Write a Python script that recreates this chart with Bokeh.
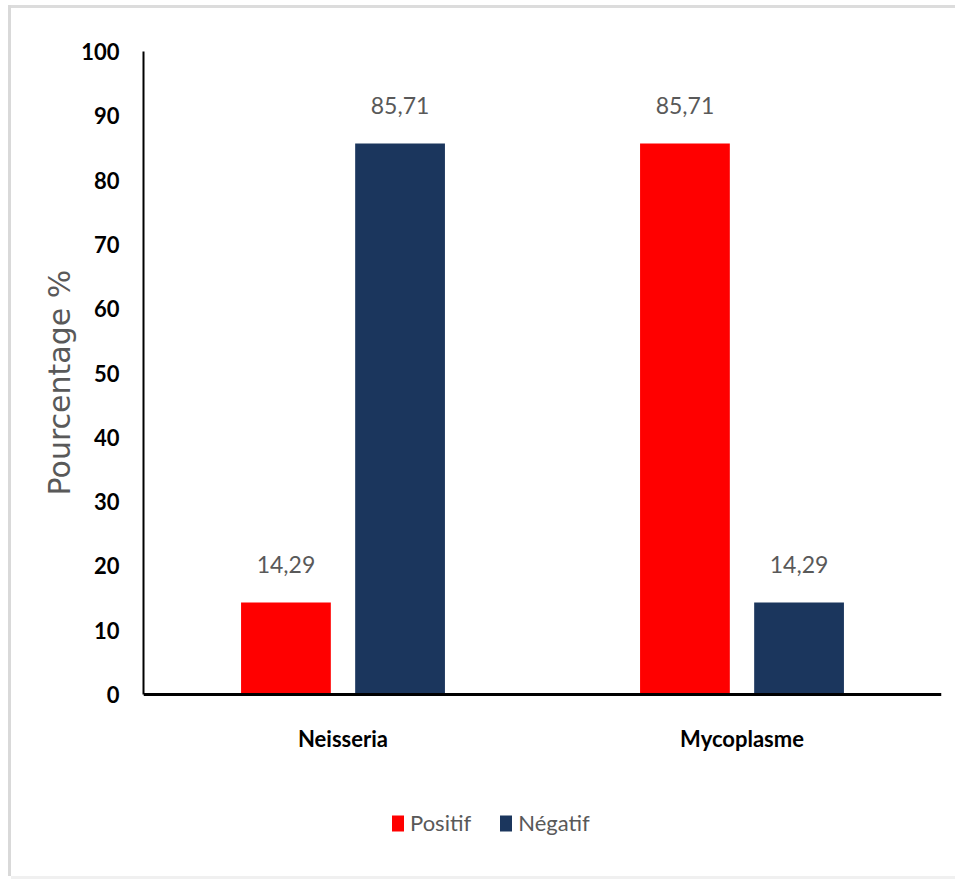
from bokeh.plotting import figure
from bokeh.models import (FactorRange, Range1d, FixedTicker, ColumnDataSource,
                          LabelSet, Legend, LegendItem, Span, Title)
from bokeh.core.properties import value
from bokeh.transform import dodge
from bokeh.embed import file_html
from bokeh.resources import INLINE

categories = ["Neisseria", "Mycoplasme"]
positif = [14.29, 85.71]
negatif = [85.71, 14.29]
series_names = ["Positif", "Négatif"]
y_ticks = [0, 10, 20, 30, 40, 50, 60, 70, 80, 90, 100]
y_title = "Pourcentage %"

RED = "#FF0000"
NAVY = "#1B365D"
GRAY = "#595959"
FONT = "Lato"

src = ColumnDataSource(dict(
    cat=categories,
    pos=positif,
    neg=negatif,
    pos_lbl=[f"{v:.2f}".replace(".", ",") for v in positif],
    neg_lbl=[f"{v:.2f}".replace(".", ",") for v in negatif],
))

# page geometry (pixels): canvas from x=11 / y=8, frame 143..941 x 51..876,
# value 0 at y=694 and 100 at y=51; the legend lives in the frame below 0.
CANVAS_X, CANVAS_Y = 11, 8
W, H = 944, 868
F_TOP, F_BOTTOM, ZERO_Y = 51, CANVAS_Y + H, 694
y_start = -100.0 * (F_BOTTOM - ZERO_Y) / (ZERO_Y - F_TOP)

p = figure(width=W, height=H, output_backend="svg", toolbar_location=None,
           x_range=FactorRange(factors=categories, range_padding=0),
           y_range=Range1d(y_start, 100),
           min_border_left=143 - CANVAS_X, min_border_right=CANVAS_X + W - 941,
           min_border_top=F_TOP - CANVAS_Y, min_border_bottom=0)
# light frame on the left, top and bottom (as in the reference screenshot)
p.styles = {"margin-left": f"{CANVAS_X}px", "margin-top": f"{CANVAS_Y}px",
            "box-shadow": ("-3px 0 0 0 #D9D9D9, 0 -3px 0 0 #DCDCDC, "
                           "-3px -3px 0 0 #D9D9D9, 0 3px 0 0 #F0F0F0")}

p.outline_line_color = None
p.grid.visible = False
p.background_fill_color = "white"
p.border_fill_color = "white"
p.xaxis.visible = False

off = 0.143
w = 0.225
r1 = p.vbar(x=dodge("cat", -off, range=p.x_range), top="pos", width=w, bottom=0,
            source=src, fill_color=RED, line_color=None)
r2 = p.vbar(x=dodge("cat", off, range=p.x_range), top="neg", width=w, bottom=0,
            source=src, fill_color=NAVY, line_color=None)

# x axis line at 0
p.add_layout(Span(location=0, dimension="width", line_color="black", line_width=3))

# category labels
p.add_layout(LabelSet(x="cat", y=0, text="cat", source=src, y_offset=-44,
                      text_align="center", text_baseline="middle",
                      text_font=value(FONT), text_font_style="bold",
                      text_font_size="22px", text_color="black"))

# value labels
for col, lab, sign in (("pos", "pos_lbl", -1), ("neg", "neg_lbl", 1)):
    p.add_layout(LabelSet(x=dodge("cat", sign * off, range=p.x_range), y=col,
                          text=lab, source=src, y_offset=38, text_align="center",
                          text_baseline="middle", text_font=value(FONT),
                          text_font_size="23px", text_color=GRAY))

# y axis
p.yaxis.bounds = (0, 100)
p.yaxis.ticker = FixedTicker(ticks=y_ticks)
p.yaxis.major_tick_line_color = None
p.yaxis.minor_tick_line_color = None
p.yaxis.major_tick_out = 0
p.yaxis.major_tick_in = 0
p.yaxis.axis_line_color = "black"
p.yaxis.axis_line_width = 2
p.yaxis.major_label_text_font = FONT
p.yaxis.major_label_text_font_style = "bold"
p.yaxis.major_label_text_font_size = "22px"
p.yaxis.major_label_text_color = "black"
p.yaxis.major_label_standoff = 24

p.add_layout(Title(text=y_title, align="left", offset=F_BOTTOM - 495,
                   standoff=4, text_font="DejaVu Sans",
                   text_font_style="normal", text_font_size="30px",
                   text_color=GRAY), "left")

legend = Legend(items=[LegendItem(label=series_names[0], renderers=[r1]),
                       LegendItem(label=series_names[1], renderers=[r2])],
                orientation="horizontal", location=(247, 40),
                glyph_width=15, glyph_height=20, label_standoff=5, spacing=27,
                padding=0, margin=0, border_line_color=None,
                background_fill_alpha=0, label_text_font=FONT,
                label_text_font_size="22px", label_text_color=GRAY)
p.add_layout(legend, "center")

open("out.html", "w").write(file_html(p, INLINE))
